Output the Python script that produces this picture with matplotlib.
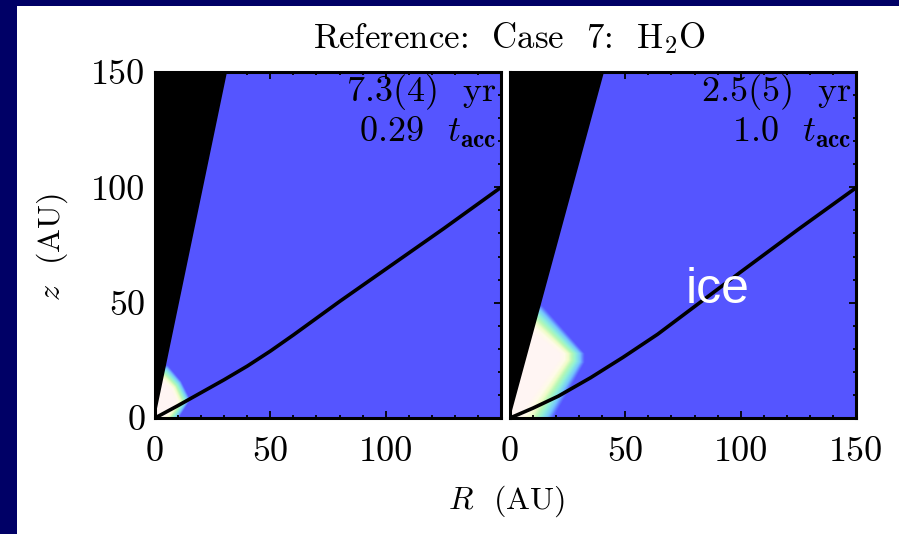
import numpy as np
import matplotlib
matplotlib.use("Agg")
import matplotlib.pyplot as plt
from matplotlib.patches import Polygon, Rectangle
from matplotlib.colors import LinearSegmentedColormap
from matplotlib.ticker import MultipleLocator, FixedLocator

plt.rcParams['mathtext.fontset'] = 'cm'
plt.rcParams['axes.formatter.use_mathtext'] = True

# ---------------- data ----------------
title = r'Reference:  Case  7:  H$_2$O'
time_labels = [r'7.3(4)  yr', r'2.5(5)  yr']
tacc_labels = [r'0.29  $t_{\mathbf{acc}}$', r'1.0  $t_{\mathbf{acc}}$']

# snow-line curve (R, z) in AU
curve_R_left = [0, 10, 20, 30, 40, 50, 60, 80, 100, 125, 150]
curve_z_left = [0, 5.4, 11, 16.6, 22.5, 29, 36, 50.5, 64.5, 82, 100]
curve_R_right = [0, 10, 21, 35, 49, 64, 78, 100, 125, 150]
curve_z_right = [0, 4.3, 9.5, 17.5, 26.3, 36.3, 46.8, 63.3, 81.8, 99.8]

# outflow cavity: R at z=150
cavity_top_R = [31, 40.6]

# gas-phase water region: outer and inner boundaries (R, z)
gas_outer_left = [(0, 0), (0, 23), (5.6, 23), (11.5, 16), (15.5, 8), (10.5, 0)]
gas_inner_left = [(0, 0), (0, 15), (3.6, 15), (7, 12), (9, 7), (4, 1)]
gas_outer_right = [(0, 0), (0, 49), (14, 49), (32.5, 28), (32.5, 24), (19, 0)]
gas_inner_right = [(0, 0), (0, 37), (10, 37), (21.5, 28), (21.5, 25.5), (4, 1)]

ticks = [0, 50, 100, 150]
xtick_labels_left = ['0', '50', '100', '']
xtick_labels_right = ['0', '50', '100', '150']
ytick_labels = ['0', '50', '100', '150']

# ---------------- figure ----------------
W, H = 899, 534
fig = plt.figure(figsize=(W / 100, H / 100), dpi=100)
fig.patch.set_facecolor('#000066')
fig.add_artist(Rectangle((17 / W, 0), 1 - 17 / W, (H - 6) / H,
                         transform=fig.transFigure, facecolor='white',
                         edgecolor='none', zorder=-5))

blue = '#5555ff'
cmap = LinearSegmentedColormap.from_list('gas', [
    (0.0, '#fff5f3'), (0.2, '#fffbea'), (0.36, '#f0fcc8'),
    (0.5, '#b8f8b6'), (0.66, '#8ef0da'), (0.83, '#74c4ff'), (1.0, blue)])

ax_w = 346 / W
ax_h = 346 / H
ax_b = (H - 418) / H
axL = fig.add_axes([155 / W, ax_b, ax_w, ax_h])
axR = fig.add_axes([510 / W, ax_b, ax_w, ax_h])

panels = [
    (axL, curve_R_left, curve_z_left, cavity_top_R[0], gas_outer_left, gas_inner_left, xtick_labels_left),
    (axR, curve_R_right, curve_z_right, cavity_top_R[1], gas_outer_right, gas_inner_right, xtick_labels_right),
]

for i, (ax, cR, cz, ctop, gout, gin, xl) in enumerate(panels):
    ax.set_facecolor(blue)
    ax.set_xlim(0, 150)
    ax.set_ylim(0, 150)
    go = np.array(gout, float)
    gi = np.array(gin, float)
    for t in np.linspace(0.98, 0.0, 30):
        verts = gi + (go - gi) * t
        ax.add_patch(Polygon(verts, closed=True, facecolor=cmap(t),
                             edgecolor='none', zorder=1))
    ax.add_patch(Polygon([(0, 0), (0, 150), (ctop, 150)], closed=True,
                         facecolor='black', edgecolor='none', zorder=2))
    ax.plot(cR, cz, color='black', lw=2.6, zorder=3, solid_capstyle='round')

    ax.xaxis.set_major_locator(FixedLocator(ticks))
    ax.yaxis.set_major_locator(FixedLocator(ticks))
    ax.xaxis.set_minor_locator(MultipleLocator(10))
    ax.yaxis.set_minor_locator(MultipleLocator(10))
    ax.set_xticklabels(xl, fontsize=26, family='cmr10')
    if i == 0:
        ax.set_yticklabels(ytick_labels, fontsize=26, family='cmr10')
    else:
        ax.set_yticklabels([])
    ax.tick_params(which='both', direction='in', top=True, right=True,
                   color='black', width=1.3)
    ax.tick_params(which='major', length=5)
    ax.tick_params(which='minor', length=2.5)
    ax.tick_params(axis='x', pad=13)
    ax.tick_params(axis='y', pad=7)
    for sp in ax.spines.values():
        sp.set_linewidth(2.2)
        sp.set_color('black')
        sp.set_zorder(5)

    ax.text(0.985, 0.915, time_labels[i], transform=ax.transAxes,
            ha='right', va='baseline', fontsize=26, family='cmr10', zorder=6)
    ax.text(0.985, 0.797, tacc_labels[i], transform=ax.transAxes,
            ha='right', va='baseline', fontsize=26, family='cmr10', zorder=6)

axR.text(76.3, 49.8, 'ice', color='white', fontsize=36,
         family='Liberation Sans', ha='left', va='baseline', zorder=7)

fig.text(509 / W, 1 - 48 / H, title, ha='center', va='baseline',
         fontsize=25, family='cmr10')
fig.text(507 / W, 1 - 501 / H, r'$R$  (AU)', ha='center',
         va='center', fontsize=23, family='cmr10')
fig.text(52 / W, 1 - 247 / H, r'$z$  (AU)', ha='center',
         va='center', rotation=90, fontsize=23, family='cmr10')

fig.savefig('out.png', dpi=100, facecolor=fig.get_facecolor())
